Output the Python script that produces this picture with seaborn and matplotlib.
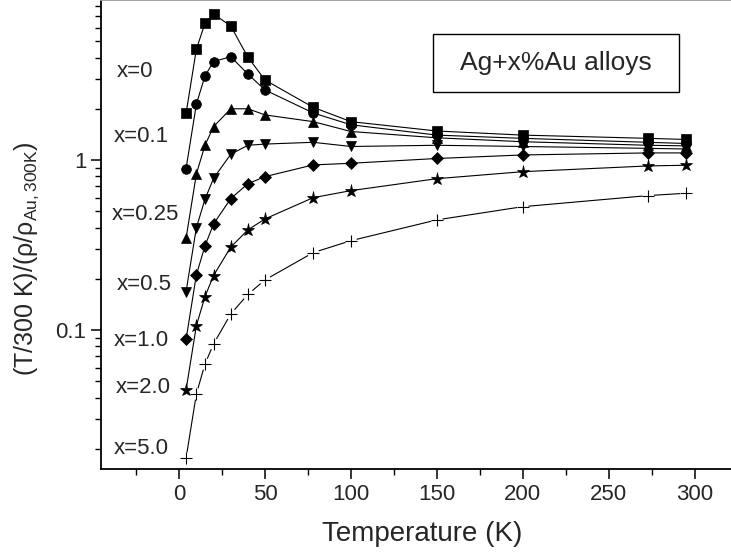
import numpy as np
import pandas as pd
import seaborn as sns
import matplotlib.pyplot as plt
from matplotlib.ticker import FixedLocator, FixedFormatter, LogLocator, MultipleLocator, NullFormatter
from matplotlib.patches import Rectangle

# Temperatures (K)
temps = [4, 10, 15, 20, 30, 40, 50, 78, 100, 150, 200, 273, 295]

# (T/300 K)/(rho/rho_Au,300K) for each Au concentration
x0 = [1.88, 4.48, 6.37, 7.22, 6.14, 4.02, 2.95, 2.04, 1.68, 1.48, 1.40, 1.34, 1.32]
x01 = [0.89, 2.13, 3.12, 3.79, 4.05, 3.20, 2.58, 1.89, 1.61, 1.40, 1.34, 1.27, 1.25]
x025 = [0.346, 0.827, 1.22, 1.57, 2.00, 2.00, 1.84, 1.68, 1.47, 1.35, 1.28, 1.22, 1.21]
x05 = [0.168, 0.40, 0.587, 0.78, 1.08, 1.22, 1.24, 1.27, 1.20, 1.22, 1.20, 1.17, 1.16]
x10 = [0.088, 0.211, 0.312, 0.42, 0.592, 0.725, 0.798, 0.935, 0.956, 1.02, 1.07, 1.10, 1.10]
x20 = [0.0444, 0.106, 0.157, 0.209, 0.307, 0.388, 0.45, 0.60, 0.66, 0.776, 0.853, 0.922, 0.931]
x50 = [0.0176, 0.042, 0.063, 0.0827, 0.124, 0.162, 0.197, 0.285, 0.335, 0.444, 0.531, 0.617, 0.637]

series = [x0, x01, x025, x05, x10, x20, x50]
labels = ['x=0', 'x=0.1', 'x=0.25', 'x=0.5', 'x=1.0', 'x=2.0', 'x=5.0']
markers = ['s', 'o', '^', 'v', 'D', '*', '+']
msizes = [6.5, 7, 7.5, 7.5, 6.5, 9.5, 9]

sns.set_style('ticks')
plt.rcParams['font.family'] = ['Liberation Sans', 'DejaVu Sans']
plt.rcParams['mathtext.fontset'] = 'custom'
plt.rcParams['mathtext.rm'] = 'Liberation Sans'
plt.rcParams['mathtext.it'] = 'Liberation Sans:italic'

fig = plt.figure(figsize=(7.31, 5.56), dpi=100)
ax = fig.add_axes([0.138, 0.1565, 0.88, 0.8435])

for vals, mk, ms in zip(series, markers, msizes):
    df = pd.DataFrame({'T': temps, 'v': vals})
    if mk == '+':
        sns.lineplot(data=df, x='T', y='v', ax=ax, color='black', linewidth=0.8, zorder=2)
        sns.scatterplot(data=df, x='T', y='v', ax=ax, color='white', s=70,
                        edgecolor='none', zorder=3)
        sns.scatterplot(data=df, x='T', y='v', ax=ax, color='black', marker='+',
                        s=ms ** 2, linewidth=0.8, zorder=4)
    else:
        sns.lineplot(data=df, x='T', y='v', ax=ax, color='black', linewidth=0.8,
                     marker=mk, markersize=ms, markeredgecolor='black',
                     markeredgewidth=0.5, zorder=3)

ax.set_yscale('log')
ax.set_xlim(-45.6, 328.9)
ax.set_ylim(0.0152, 8.73)

ax.xaxis.set_major_locator(MultipleLocator(50))
ax.xaxis.set_minor_locator(MultipleLocator(25))
ax.yaxis.set_major_locator(FixedLocator([0.1, 1]))
ax.yaxis.set_major_formatter(FixedFormatter(['0.1', '1']))
ax.yaxis.set_minor_locator(LogLocator(base=10, subs=np.arange(2, 10)))
ax.yaxis.set_minor_formatter(NullFormatter())

ax.tick_params(which='major', direction='out', length=7, width=1.1, labelsize=16, color='black')
ax.tick_params(which='minor', direction='out', length=4, width=1.0, color='black')
for sp in ax.spines.values():
    sp.set_linewidth(1.3)
    sp.set_color('black')
ax.spines['top'].set_color('#999999')

ax.set_xlabel('Temperature (K)', fontsize=20, labelpad=12)
ax.set_ylabel(r'(T/300 K)/(ρ/ρ$_{\mathrm{Au,300K}}$)', fontsize=18)
ax.yaxis.set_label_coords(-0.093, 0.449)

# concentration labels on the left
lab_x = [116.7, 114, 111.7, 116.7, 114, 116, 114]
lab_y = [72, 137, 215, 285, 341, 388, 449]
for lab, px, py in zip(labels, lab_x, lab_y):
    ax.text((px - 101) / 643.3, (469 - py) / 469, lab, transform=ax.transAxes,
            fontsize=16, ha='left', va='center')

# title box
ax.add_patch(Rectangle((0.516, 0.804), 0.383, 0.1235, transform=ax.transAxes,
                       fill=False, edgecolor='black', linewidth=1.0, zorder=5))
ax.text(0.7075, 0.866, 'Ag+x%Au alloys', transform=ax.transAxes,
        fontsize=19, ha='center', va='center')

fig.savefig('out.png', dpi=100)
